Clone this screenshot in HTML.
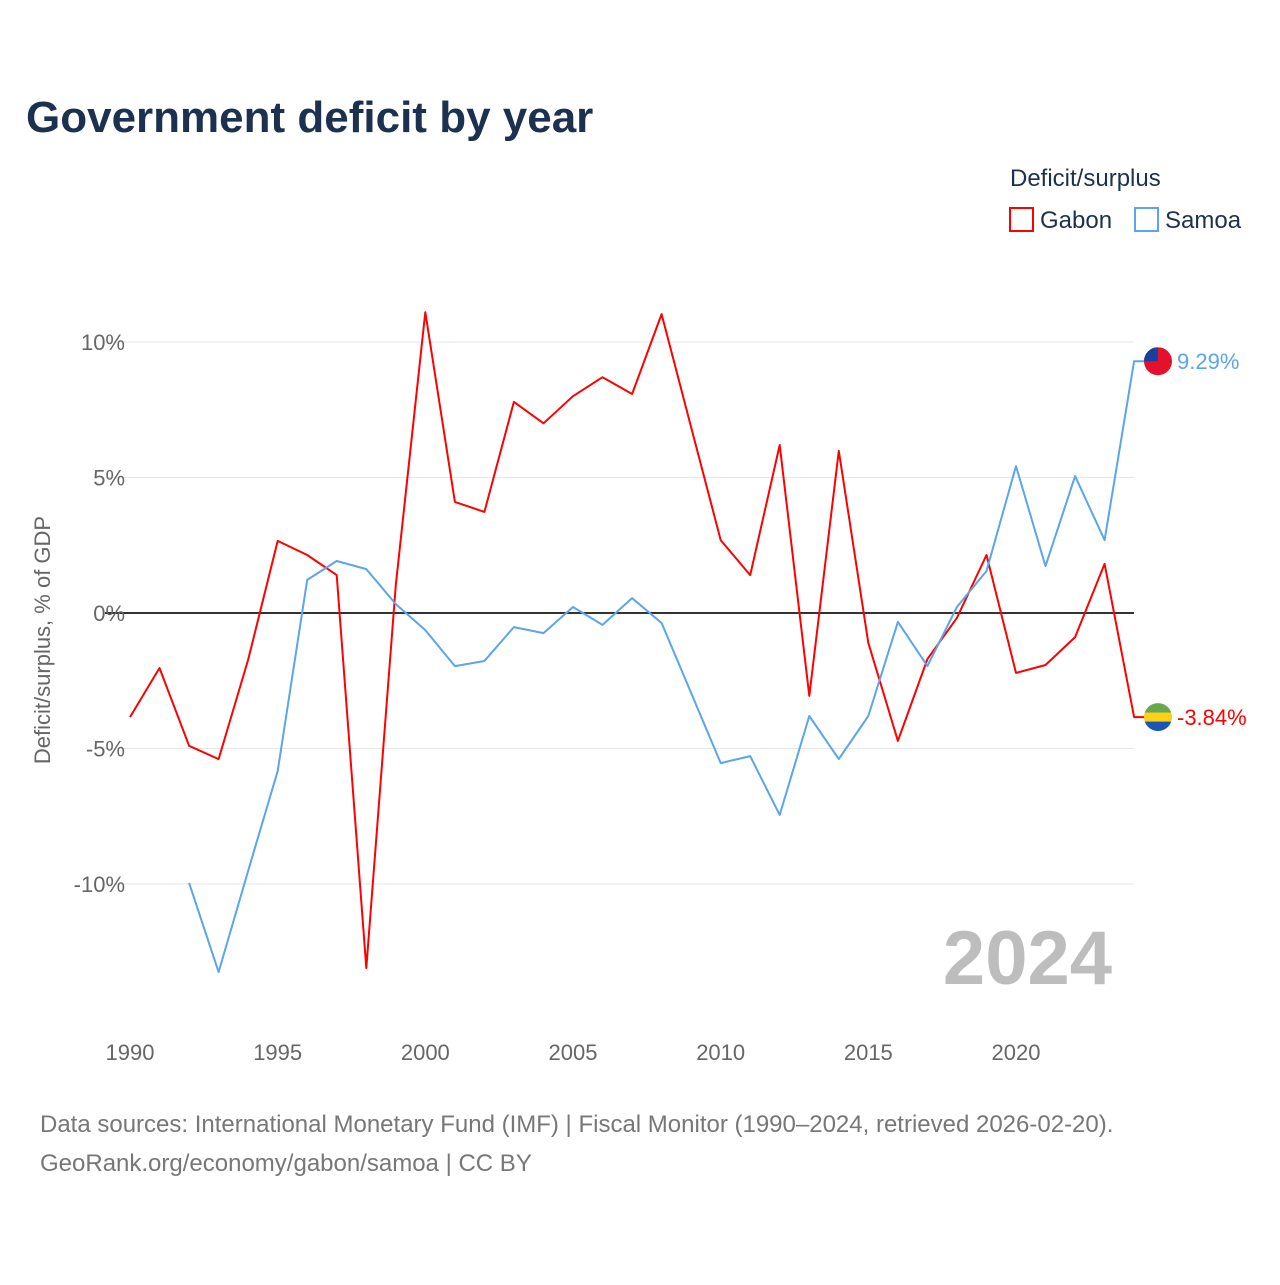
<!DOCTYPE html>
<html><head><meta charset="utf-8"><style>
body{margin:0;background:#fff;width:1280px;height:1280px;overflow:hidden;font-family:"Liberation Sans",sans-serif}
</style></head><body>
<svg id="c" width="1280" height="1280" xmlns="http://www.w3.org/2000/svg" style="font-family:'Liberation Sans',sans-serif">
<text x="26" y="132" font-size="44" font-weight="bold" fill="#1c3150">Government deficit by year</text>
<text x="1010" y="186" font-size="24" fill="#1c3150">Deficit/surplus</text>
<g><rect x="1010" y="208" width="23" height="23" fill="none" stroke="#f00" stroke-width="2"/><text x="1040" y="228" font-size="24" fill="#1c3150">Gabon</text></g>
<g><rect x="1135" y="208" width="23" height="23" fill="none" stroke="#5aa5ec" stroke-width="2"/><text x="1165" y="228" font-size="24" fill="#1c3150">Samoa</text></g>
<text transform="translate(50,640) rotate(-90)" text-anchor="middle" font-size="22" fill="#666">Deficit/surplus, % of GDP</text>
<text x="1112" y="984" text-anchor="end" font-size="76" font-weight="bold" fill="#bdbdbd">2024</text>
<g id="axes"></g><g id="series"></g>
<text x="40" y="1132" font-size="24" fill="#777">Data sources: International Monetary Fund (IMF) | Fiscal Monitor (1990–2024, retrieved 2026-02-20).</text>
<text x="40" y="1171" font-size="24" fill="#777">GeoRank.org/economy/gabon/samoa | CC BY</text>
</svg>
<script>
const years=[];for(let y=1990;y<=2024;y++)years.push(y);
const gabon=[-3.84,-2.03,-4.9,-5.39,-1.73,2.66,2.14,1.4,-13.1,1.03,11.1,4.1,3.73,7.79,7.0,8.0,8.7,8.08,11.03,6.86,2.69,1.4,6.2,-3.06,5.98,-1.1,-4.72,-1.7,-0.18,2.14,-2.21,-1.92,-0.89,1.81,-3.84];
const samoa=[null,null,-9.96,-13.25,-9.52,-5.83,1.22,1.92,1.62,0.33,-0.63,-1.96,-1.77,-0.52,-0.74,0.22,-0.44,0.55,-0.37,-2.95,-5.54,-5.28,-7.45,-3.8,-5.39,-3.8,-0.33,-1.96,0.22,1.55,5.42,1.73,5.05,2.69,9.29];
const yTicks=[10,5,0,-5,-10];
const xTicks=[1990,1995,2000,2005,2010,2015,2020];
const NS="http://www.w3.org/2000/svg";
const X=y=>130+(y-1990)*(886/30);
const Y=v=>613-v*27.1;
const ax=document.getElementById('axes'),se=document.getElementById('series');
function mk(tag,attrs,parent,txt){const e=document.createElementNS(NS,tag);for(const k in attrs)e.setAttribute(k,attrs[k]);if(txt!=null)e.textContent=txt;parent.appendChild(e);return e;}
yTicks.forEach(t=>{
 const l=mk('line',{x1:105,x2:1134,y1:Y(t),y2:Y(t),stroke:t===0?'#333':'#e6e6e6','stroke-width':t===0?2:1},ax);
 
 
 const tx=mk('text',{x:125,y:Y(t)+8,'text-anchor':'end','font-size':22,fill:'#666'},ax,t+'%');
 
 
});
xTicks.forEach(t=>{
 const tx=mk('text',{x:X(t),y:1060,'text-anchor':'middle','font-size':22,fill:'#666'},ax,t);
 
 
});
function line(vals,color,name){
 let d='';let started=false;
 vals.forEach((v,i)=>{if(v==null)return;d+=(started?'L':'M')+X(years[i]).toFixed(1)+','+Y(v).toFixed(1);started=true;});
 const last=vals[vals.length-1];
 d+='L'+(X(2024)+12)+','+Y(last).toFixed(1);
 const p=mk('path',{d:d,fill:'none',stroke:color,'stroke-width':2,'stroke-linejoin':'round'},se);
 
 
 return last;
}
const gl=line(gabon,'#f00','gabon');
const sl=line(samoa,'#5aa5ec','samoa');
// flags
const fx=1158;
const gf=mk('g',{},se);


mk('clipPath',{id:'cg'},gf);mk('circle',{cx:fx,cy:Y(gl),r:14},gf.lastChild);
const gg=mk('g',{'clip-path':'url(#cg)'},gf);
mk('rect',{x:fx-14,y:Y(gl)-14,width:28,height:10,fill:'#6aa84f'},gg);
mk('rect',{x:fx-14,y:Y(gl)-4.5,width:28,height:9,fill:'#fcd116'},gg);
mk('rect',{x:fx-14,y:Y(gl)+4.5,width:28,height:10,fill:'#1a57b5'},gg);
const gt=mk('text',{x:1177,y:Y(gl)+8,'font-size':22,fill:'#f00'},se,gl.toFixed(2)+'%');


const sf=mk('g',{},se);


mk('clipPath',{id:'cs'},sf);mk('circle',{cx:fx,cy:Y(sl),r:14},sf.lastChild);
const sg=mk('g',{'clip-path':'url(#cs)'},sf);
mk('rect',{x:fx-14,y:Y(sl)-14,width:28,height:28,fill:'#e3112b'},sg);
mk('rect',{x:fx-14,y:Y(sl)-14,width:14,height:14,fill:'#1a3f9c'},sg);
const st=mk('text',{x:1177,y:Y(sl)+8,'font-size':22,fill:'#5aa5ec'},se,sl.toFixed(2)+'%');


</script>
</body></html>
